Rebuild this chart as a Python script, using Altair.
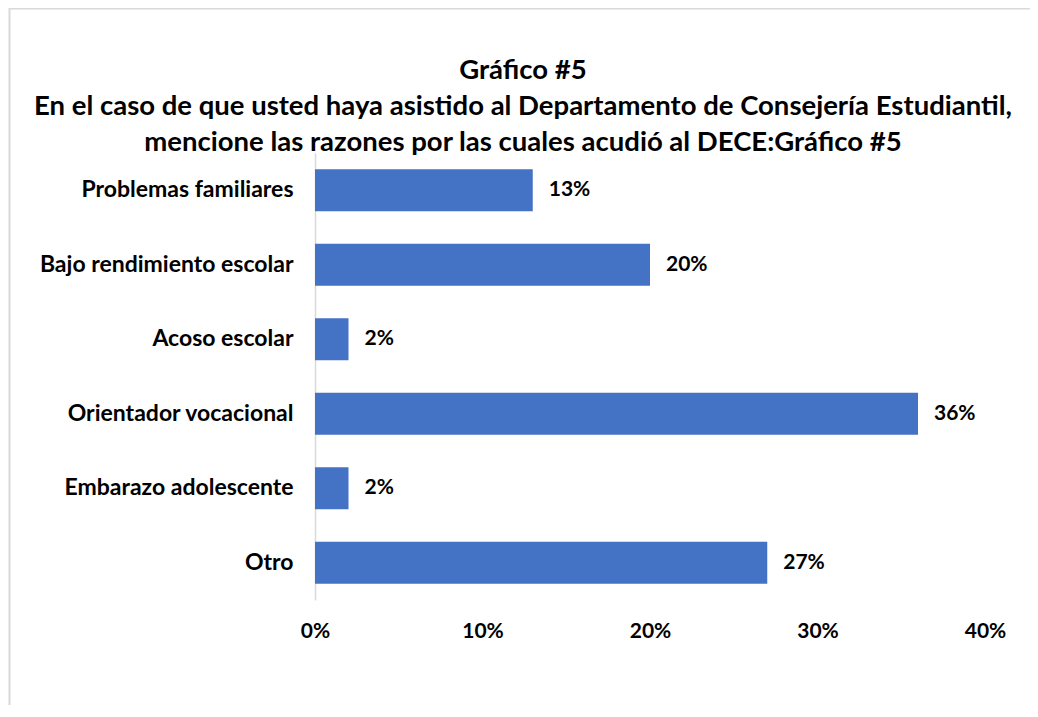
import altair as alt
import pandas as pd

categories = ["Problemas familiares", "Bajo rendimiento escolar", "Acoso escolar",
              "Orientador vocacional", "Embarazo adolescente", "Otro"]
values = [0.13, 0.20, 0.02, 0.36, 0.02, 0.27]
x_ticks = [0, 0.1, 0.2, 0.3, 0.4]

title_lines = ["Gráfico #5",
               "En el caso de que usted haya asistido al Departamento de Consejería Estudiantil,",
               "mencione las razones por las cuales acudió al DECE:Gráfico #5"]

df = pd.DataFrame({"cat": categories, "val": values})

FONT = "Lato"

y_enc = alt.Y("cat:N", sort=categories, title=None,
              scale=alt.Scale(paddingInner=0.433, paddingOuter=0.2165),
              axis=alt.Axis(labelFont=FONT, labelFontSize=23, labelFontWeight="bold",
                            labelColor="#000000", ticks=False, labelPadding=22,
                            domainColor="#d9d9d9", domainWidth=1.5, labelLimit=400))
x_enc = alt.X("val:Q", title=None,
              scale=alt.Scale(domain=[0, 0.4], nice=False),
              axis=alt.Axis(values=x_ticks, format=".0%", grid=False, domain=False, ticks=False,
                            labelFlush=False,
                            labelFont=FONT, labelFontSize=21, labelFontWeight="bold",
                            labelColor="#000000", labelPadding=20))

bars = alt.Chart(df).mark_bar(color="#4472C4").encode(x=x_enc, y=y_enc)

labels = alt.Chart(df).mark_text(align="left", baseline="middle", dx=16,
                                 font=FONT, fontSize=21, fontWeight="bold",
                                 color="#000000").encode(
    x=alt.X("val:Q"), y=alt.Y("cat:N", sort=categories),
    text=alt.Text("val:Q", format=".0%"))

frame_df = pd.DataFrame({"k": [0]})
frame_top = alt.Chart(frame_df).mark_rule(color="#d9d9d9", strokeWidth=2).encode(
    x=alt.value(-306), x2=alt.value(740), y=alt.value(-144.5))
frame_left = alt.Chart(frame_df).mark_rule(color="#d9d9d9", strokeWidth=2).encode(
    x=alt.value(-305.5), y=alt.value(-146), y2=alt.value(600))

chart = alt.layer(frame_top, frame_left, bars, labels).properties(
    width=670, height=447,
    padding={"left": 307, "top": 145, "right": 45, "bottom": 105},
    autosize=alt.AutoSizeParams(type="none"),
    title=alt.TitleParams(text=title_lines, font=FONT, fontSize=27.5, fontWeight="bold",
                          color="#000000", anchor="middle", frame="group", dx=-127,
                          dy=152, lineHeight=36, offset=2),
).configure_view(stroke=None)

chart.save("out.html", embed_options={"renderer": "svg", "actions": False})
